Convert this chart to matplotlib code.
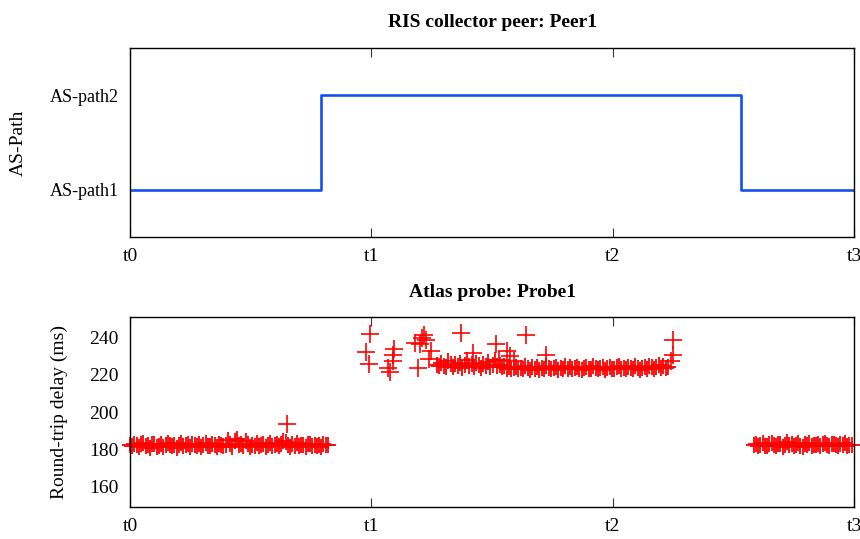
import numpy as np
import matplotlib
matplotlib.use("Agg")
import matplotlib.pyplot as plt

plt.rcParams['font.family'] = ['Liberation Serif', 'DejaVu Serif']

# top panel: AS path seen by the RIS peer
change_times = [0.0, 0.79, 2.53, 3.0]
as_path = [1, 2, 1, 1]
path_labels = ['AS-path1', 'AS-path2']

time_ticks = [0, 1, 2, 3]
time_labels = ['t0', 't1', 't2', 't3']

# bottom panel: RTT measurements (periodic samples, three bands)
band1_start, band1_end = 0.0, 0.82
band1_rtt = [182.3, 181.6, 183.0, 182.1, 181.2, 182.8, 183.4, 181.9, 182.5, 180.9,
             182.7, 183.1, 181.5, 182.0, 182.9, 181.3, 182.4, 183.6, 182.2, 181.7,
             182.6, 180.8, 182.1, 183.2, 181.8, 182.5, 182.9, 181.4, 183.0, 182.3,
             181.9, 182.7, 181.1, 182.4, 183.3, 182.0, 181.6, 182.8, 182.2, 181.5,
             183.1, 182.6, 181.9, 182.3, 184.9, 182.7, 181.4, 184.6, 185.3, 182.1,
             182.9, 181.8, 184.4, 183.0, 181.2, 182.6, 182.0, 183.5, 181.7, 182.4,
             182.8, 181.3, 182.5, 183.2, 181.9, 182.1, 182.7, 181.6, 183.0, 184.7,
             184.2, 182.3, 181.5, 182.9, 182.0, 183.3, 181.8, 182.5, 182.2, 181.1,
             182.8, 183.1, 181.7, 182.4, 182.0, 182.6, 181.4, 183.0, 182.3, 182.1]

band2_start, band2_end = 1.27, 2.23
band2_rtt = [225.2, 224.4, 226.0, 224.8, 223.9, 227.3, 225.5, 224.1, 225.9, 224.6,
             226.4, 223.8, 225.1, 227.8, 224.9, 225.6, 224.2, 226.2, 225.0, 223.7,
             225.8, 224.5, 226.7, 224.0, 225.3, 228.1, 224.7, 225.4, 223.9, 224.9,
             223.2, 224.0, 222.8, 223.6, 224.3, 222.9, 223.8, 223.1, 224.5, 223.4,
             222.7, 223.9, 223.3, 224.2, 222.6, 223.7, 223.0, 224.4, 223.5, 222.9,
             223.8, 224.1, 222.5, 223.6, 223.2, 224.6, 223.0, 223.9, 222.8, 223.4,
             224.3, 223.1, 222.7, 223.8, 224.0, 223.3, 222.9, 224.5, 223.6, 223.0,
             223.7, 224.2, 222.6, 223.5, 224.1, 223.2, 222.8, 223.9, 224.4, 223.1,
             223.6, 222.9, 224.3, 223.4, 223.0, 224.6, 223.8, 222.7, 223.5, 224.0,
             223.2, 224.7, 223.9, 223.3, 224.2, 225.0, 223.6, 224.4, 223.8, 224.1]

band3_start, band3_end = 2.585, 2.99
band3_rtt = [182.4, 183.1, 181.8, 182.6, 183.3, 182.0, 181.6, 182.9, 183.5, 182.2,
             181.9, 182.7, 183.0, 181.5, 182.4, 183.8, 182.1, 182.8, 181.7, 182.5,
             183.2, 182.0, 181.4, 182.9, 182.3, 183.4, 181.8, 182.6, 182.1, 183.0,
             181.9, 182.7, 183.3, 182.2, 181.6, 182.8, 183.1, 182.4, 181.7, 182.9,
             182.3, 183.2, 181.9, 182.5, 182.2]

outlier_t = [0.652, 0.995, 0.978, 0.990, 1.070, 1.077, 1.088, 1.095, 1.090, 1.181,
             1.200, 1.209, 1.220, 1.225, 1.195, 1.246, 1.240, 1.370, 1.423, 1.517,
             1.530, 1.561, 1.575, 1.590, 1.641, 1.724, 2.252, 2.248, 2.240]
outlier_rtt = [193.5, 242.0, 232.0, 225.5, 223.5, 221.5, 230.5, 234.0, 227.5, 237.0,
               236.5, 239.5, 241.5, 238.5, 223.5, 232.5, 228.5, 242.3, 231.8, 236.3,
               228.0, 232.5, 229.8, 227.5, 241.0, 230.8, 238.8, 230.8, 227.5]

fig = plt.figure(figsize=(8.6, 5.39), dpi=100)
ax1 = fig.add_axes([0.1512, 0.5603, 0.8418, 0.3512])
ax2 = fig.add_axes([0.1512, 0.0599, 0.8418, 0.3513])

ax1.step(change_times, as_path, where='post', color='#1450f0', lw=1.9)
ax1.set_xlim(0, 3)
ax1.set_ylim(0.5, 2.5)
ax1.set_yticks([1, 2])
ax1.set_yticklabels(path_labels)
ax1.set_ylabel('AS-Path', fontsize=14)
ax1.yaxis.set_label_coords(-0.142, 0.5)
ax1.set_title('RIS collector peer: Peer1', fontsize=14, fontweight='bold', pad=15)

for start, end, rtt in [(band1_start, band1_end, band1_rtt),
                        (band2_start, band2_end, band2_rtt),
                        (band3_start, band3_end, band3_rtt)]:
    t = np.linspace(start, end, len(rtt))
    ax2.plot(t, rtt, ls='none', marker='+', ms=12, mew=1.3, color='red', clip_on=False)
ax2.plot(outlier_t, outlier_rtt, ls='none', marker='+', ms=12.5, mew=1.2, color='red', clip_on=False)
ax2.set_xlim(0, 3)
ax2.set_ylim(149.3, 250.7)
ax2.set_yticks([160, 180, 200, 220, 240])
ax2.set_ylabel('Round-trip delay (ms)', fontsize=14)
ax2.yaxis.set_label_coords(-0.086, 0.5)
ax2.set_title('Atlas probe: Probe1', fontsize=14, fontweight='bold', pad=15)

for ax in (ax1, ax2):
    ax.set_xticks(time_ticks)
    ax.set_xticklabels(time_labels)
    ax.tick_params(axis='x', direction='in', top=True, bottom=True, length=6.5,
                   width=0.8, color='#333333', labelsize=14, pad=8)
    ax.tick_params(axis='y', length=0, labelsize=14, pad=8)
    for s in ax.spines.values():
        s.set_linewidth(1.0)
ax1.tick_params(axis='y', labelsize=13)

fig.savefig('out.png', dpi=100)
